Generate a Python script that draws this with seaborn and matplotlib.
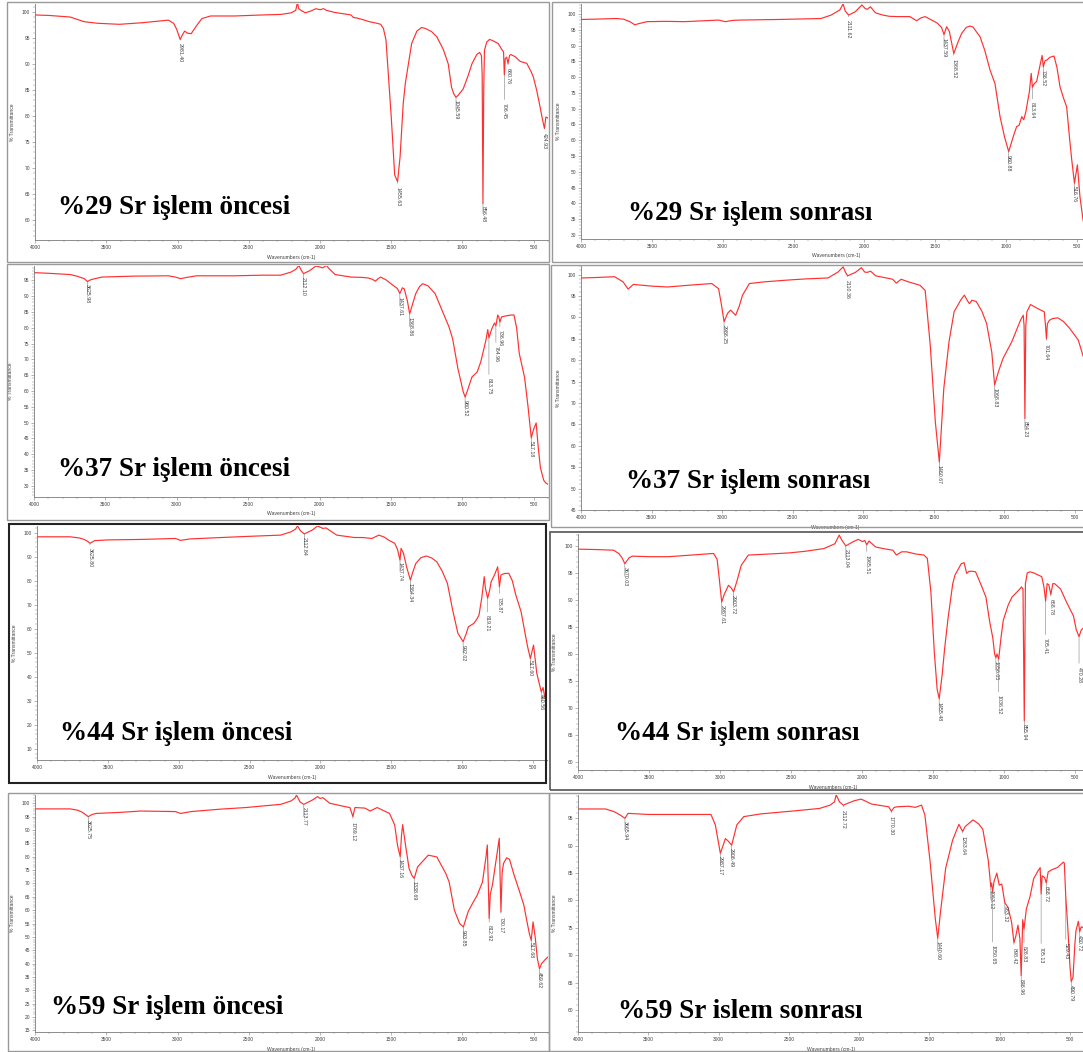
import matplotlib
matplotlib.use("Agg")
import matplotlib.pyplot as plt
from matplotlib.patches import Rectangle
from matplotlib.ticker import MultipleLocator, FormatStrFormatter
import numpy as np
import pandas as pd
import seaborn as sns

sns.set_theme(style="white")
plt.rcParams["font.family"] = ["Liberation Sans", "DejaVu Sans"]

W, H = 1083, 1052

# ---------------- spectra: wavenumber (cm-1) and % transmittance ----------------
wn_29_before = [4000, 3900, 3753, 3655, 3560, 3408, 3250, 3064, 3027, 3005, 2981.40, 2965, 2950, 2930, 2904,
                2870, 2829, 2768, 2600, 2400, 2276, 2202, 2170, 2158, 2150, 2134, 2103, 2060, 2029, 2000,
                1975, 1956, 1900, 1830, 1783, 1765, 1740, 1700, 1653, 1600, 1574, 1555, 1537, 1500, 1476,
                1455.63, 1438, 1416, 1401, 1357, 1320, 1287, 1260, 1217, 1180, 1135, 1100, 1077, 1060,
                1045.59, 1030, 995, 960, 934, 900, 880, 867, 862, 856.48, 851, 846, 830, 810, 790, 749,
                725, 712, 706.45, 700, 690, 680.76, 670, 661, 631, 596, 549, 520, 503, 480, 456, 440,
                424.93, 415, 400]
t_29_before = [99.4, 99.3, 99.0, 98.1, 97.8, 97.6, 97.9, 98.4, 97.8, 96.6, 94.7, 95.6, 96.3, 95.9, 95.8,
               97.2, 98.7, 99.2, 99.2, 99.4, 99.5, 99.8, 100.3, 101.9, 100.6, 100.3, 99.8, 100.2, 100.6, 100.4,
               100.6, 100.3, 99.9, 99.6, 99.4, 98.9, 98.8, 98.5, 98.1, 97.8, 97.6, 96.8, 94.6, 79.8, 68.7,
               67.4, 72.2, 82.4, 86.3, 93.9, 96.3, 97.0, 96.8, 96.2, 95.2, 92.8, 90.0, 85.5, 84.2,
               83.6, 84.0, 85.2, 87.8, 90.0, 91.8, 92.2, 91.6, 88.0, 63.2, 85.0, 92.6, 94.2, 94.7, 94.5, 93.9,
               92.8, 92.3, 87.9, 91.0, 91.3, 90.1, 91.6, 91.8, 91.4, 90.5, 90.1, 88.6, 87.5, 85.0, 81.8, 79.5,
               77.6, 79.8, 79.6]
peaks_29_before = [2981.40, 1455.63, 1045.59, 856.48, 706.45, 680.76, 424.93]

wn_29_after = [4000, 3900, 3751, 3700, 3655, 3620, 3590, 3534, 3400, 3269, 3029, 2981, 2930, 2885, 2600,
               2400, 2306, 2234, 2173, 2150, 2135, 2111.62, 2065, 2017, 1995, 1981, 1957, 1921, 1870, 1824,
               1760, 1679, 1631, 1600, 1571, 1520, 1487, 1455, 1437.59, 1419, 1400, 1368.52, 1340, 1313,
               1280, 1254, 1233, 1183, 1150, 1113, 1078, 1042, 1010, 980.88, 960, 943, 925, 907, 889, 875,
               860, 835, 822, 813.64, 800, 784, 762, 745, 736.52, 725, 713, 690, 661, 640, 619, 595, 572,
               550, 536, 516.76, 496, 478, 456, 440]
t_29_after = [98.3, 98.4, 98.6, 98.4, 97.6, 96.6, 97.0, 97.6, 97.7, 97.6, 98.1, 97.6, 98.0, 98.1, 98.3,
              98.5, 98.6, 99.7, 101.3, 103.2, 101.0, 99.7, 100.7, 102.9, 101.8, 101.5, 102.3, 100.4, 99.7, 99.3,
              99.2, 99.2, 97.9, 98.8, 99.2, 98.0, 97.2, 95.8, 93.5, 96.0, 94.5, 87.5, 91.0, 93.9,
              95.8, 96.2, 95.9, 92.8, 88.5, 82.3, 78.0, 67.5, 61.0, 56.4, 59.5, 62.0, 64.3, 64.8, 67.5, 66.5,
              69.0, 75.4, 81.2, 76.8, 78.0, 78.6, 83.3, 86.9, 83.3, 85.2, 85.4, 86.3, 86.7, 83.0, 77.0, 73.5, 70.6,
              60.0, 53.8, 46.4, 52.2, 42.1, 34.7, 31.5]
peaks_29_after = [2111.62, 1437.59, 1368.52, 980.88, 813.64, 736.52, 516.76]

wn_37_before = [4000, 3900, 3747, 3700, 3648, 3625.98, 3600, 3525, 3300, 3059, 3010, 2973, 2930, 2862, 2600,
                2400, 2272, 2199, 2165, 2145, 2130, 2112.10, 2070, 2026, 2000, 1977, 1953, 1930, 1891, 1780,
                1700, 1658, 1630, 1609, 1590, 1572, 1530, 1486, 1455, 1437.61, 1420, 1407, 1385, 1368.86,
                1345, 1326, 1300, 1277, 1240, 1191, 1142, 1093, 1068, 1031, 994, 980.52, 965, 933, 896, 871,
                835, 822, 813.75, 795, 775, 764.96, 752, 745, 736.96, 725, 699, 660, 638, 620, 601, 564, 539,
                517.18, 500, 483, 470, 453, 430, 417, 400]
t_37_before = [97.4, 97.2, 96.8, 96.3, 95.5, 94.6, 95.2, 96.0, 96.3, 96.4, 96.0, 95.5, 95.9, 96.4, 96.4,
               96.6, 96.6, 97.6, 98.5, 99.7, 98.3, 97.1, 98.0, 99.5, 99.2, 98.9, 99.7, 98.5, 96.8, 96.0,
               95.9, 95.7, 95.3, 94.7, 95.5, 96.0, 95.0, 93.4, 92.4, 90.8, 92.6, 92.3, 88.5, 84.4,
               88.0, 90.8, 93.0, 93.9, 93.2, 90.8, 85.5, 80.2, 76.5, 67.1, 59.8, 58.1, 60.0, 64.4, 66.0, 69.2,
               76.0, 79.4, 76.8, 79.5, 81.5, 80.6, 84.0, 83.5, 81.8, 83.4, 83.7, 84.0, 84.0, 80.0, 71.8, 64.3, 54.7,
               45.2, 48.0, 49.9, 43.0, 35.7, 31.8, 31.0, 30.5]
peaks_37_before = [3625.98, 2112.10, 1437.61, 1368.86, 980.52, 813.75, 764.96, 736.96, 517.18]

wn_37_after = [4000, 3900, 3762, 3702, 3666, 3629, 3500, 3387, 3200, 3073, 3025, 3005, 2986.25, 2960, 2940,
               2904, 2880, 2855, 2807, 2700, 2541, 2400, 2250, 2178, 2142, 2125, 2110.36, 2056, 2013, 1990,
               1972, 1948, 1912, 1850, 1791, 1766, 1731, 1680, 1598, 1561, 1525, 1489, 1460.67, 1429, 1392,
               1356, 1310, 1283, 1260, 1247, 1230, 1199, 1160, 1126, 1089, 1068.83, 1040, 1008, 947, 886, 866,
               860, 854.23, 848, 840, 815, 760, 717, 708, 701.64, 695, 681, 660, 621, 580, 536, 476, 444, 430]
t_37_after = [99.2, 99.3, 99.5, 98.3, 96.6, 97.7, 97.3, 97.1, 97.6, 97.9, 96.7, 93.0, 89.0, 91.0, 91.7,
              90.5, 92.5, 95.2, 97.9, 98.3, 98.7, 99.0, 99.2, 100.6, 101.8, 100.5, 99.7, 100.5, 101.6, 100.6,
              100.5, 100.8, 99.7, 99.3, 98.9, 98.0, 98.9, 98.3, 97.5, 96.3, 83.5, 65.6, 56.2, 73.4, 84.3,
              91.3, 94.0, 95.2, 93.8, 93.2, 94.0, 93.7, 91.5, 88.6, 81.9, 74.2, 77.5, 80.5, 84.3, 89.3, 90.5,
              88.0, 66.4, 88.0, 91.3, 93.0, 92.0, 91.3, 88.0, 85.0, 88.5, 89.3, 89.7, 89.9, 89.0, 87.4, 84.7, 81.2, 80.0]
peaks_37_after = [2986.25, 2110.36, 1460.67, 1068.83, 854.23, 701.64]

wn_44_before = [4000, 3766, 3700, 3667, 3645, 3625.80, 3593, 3500, 3270, 3023, 2986, 2923, 2700, 2500, 2280,
                2206, 2175, 2161, 2140, 2112.84, 2057, 2020, 2000, 1983, 1960, 1884, 1797, 1760, 1700, 1636,
                1587, 1550, 1512, 1475, 1455, 1437.74, 1430, 1413, 1390, 1364.34, 1345, 1326, 1290, 1252,
                1215, 1178, 1140, 1103, 1066, 1029, 992.02, 970, 955, 917, 895, 880, 860, 843, 835, 819.21,
                805, 794, 770, 748, 735.87, 725, 700, 670, 645, 620, 583, 546, 535, 517.60, 495, 472, 440.56,
                428, 415, 400]
t_44_before = [98.3, 98.3, 97.8, 97.2, 96.5, 95.6, 96.7, 97.0, 97.2, 97.6, 96.8, 97.4, 98.0, 98.5, 99.0,
               100.4, 101.5, 102.8, 100.8, 99.5, 101.1, 102.8, 102.3, 101.8, 102.0, 99.0, 98.3, 98.0, 98.0, 97.6,
               99.0, 98.2, 96.7, 95.6, 93.0, 88.6, 93.5, 91.4, 85.5, 80.3, 84.0, 87.2, 89.6, 90.3,
               89.5, 87.9, 84.0, 78.9, 67.8, 58.1, 54.6, 58.0, 60.8, 62.2, 64.0, 65.7, 73.0, 81.7, 77.0, 72.7,
               76.0, 79.6, 82.5, 85.8, 77.5, 82.4, 83.0, 83.1, 80.0, 74.0, 67.1, 55.3, 52.0, 47.6, 53.2, 41.4, 33.7,
               35.5, 31.5, 30.3]
peaks_44_before = [3625.80, 2112.84, 1437.74, 1364.34, 992.02, 819.21, 735.87, 517.60, 440.56]

wn_44_after = [4000, 3850, 3750, 3713, 3690, 3670.03, 3640, 3616, 3500, 3361, 3200, 3045, 3020, 3005, 2987.61,
               2970, 2940, 2920, 2903.72, 2880, 2850, 2800, 2650, 2511, 2400, 2268, 2190, 2160, 2140, 2113.04,
               2060, 2025, 1995, 1980, 1965.51, 1950, 1903, 1850, 1782, 1757, 1720, 1685, 1620, 1563, 1539,
               1514, 1490, 1470, 1455.48, 1435, 1417, 1393, 1360, 1344, 1300, 1280, 1262, 1245, 1225, 1199,
               1156, 1126, 1100, 1078, 1065, 1056.05, 1048, 1036.52, 1020, 1004, 970, 943, 895, 875, 865,
               855.94, 848, 835, 816, 790, 733, 718, 705.41, 695, 683, 668.78, 655, 642, 600, 557, 509, 490,
               470.28, 455, 440, 420, 400]
t_44_after = [99.4, 99.3, 99.2, 98.6, 97.8, 96.7, 97.8, 98.1, 98.0, 98.0, 98.3, 98.6, 97.5, 94.0, 89.6,
              91.0, 92.7, 92.2, 91.5, 93.5, 96.4, 98.3, 98.5, 98.7, 99.0, 99.5, 100.4, 102.0, 101.0, 100.0,
              100.8, 101.2, 100.8, 101.0, 100.2, 100.9, 99.8, 99.5, 99.2, 98.3, 98.9, 98.9, 98.5, 98.3, 97.7,
              91.5, 80.4, 73.5, 71.7, 76.0, 81.0, 86.6, 93.0, 94.6, 96.7, 96.9, 94.9, 95.3, 95.3, 95.2,
              92.5, 90.5, 86.0, 83.0, 80.0, 79.3, 80.0, 79.0, 83.0, 86.2, 89.0, 90.5, 91.8, 92.4, 92.0,
              67.6, 93.0, 95.0, 95.2, 95.0, 94.3, 92.5, 89.8, 93.0, 92.8, 91.0, 93.0, 93.0, 92.0, 89.5, 87.0, 84.5,
              83.2, 84.4, 84.8, 84.5, 84.0]
peaks_44_after = [3670.03, 2987.61, 2903.72, 2113.04, 1965.51, 1455.48, 1056.05, 1036.52, 855.94, 705.41,
                  668.78, 470.28]

wn_59_before = [4000, 3753, 3700, 3667, 3625.75, 3600, 3570, 3400, 3260, 3015, 2978, 2904, 2700, 2522, 2400,
                2276, 2202, 2175, 2165, 2140, 2113.77, 2054, 2017, 2000, 1980, 1931, 1820, 1790, 1769.12, 1755,
                1685, 1648, 1599, 1512, 1476, 1455, 1437.16, 1428, 1420, 1400, 1375, 1355, 1338.69, 1315,
                1240, 1180, 1118, 1094, 1057, 1020, 993.85, 960, 930, 897, 860, 835, 826, 818, 812.92, 805,
                790, 765, 742, 736, 730.17, 722, 712, 690, 670, 640, 600, 570, 545, 530, 517.68, 505, 490,
                475, 459.62, 445, 420, 400]
t_59_before = [97.9, 97.9, 97.4, 96.6, 95.0, 95.8, 96.2, 96.6, 97.1, 96.9, 96.2, 96.9, 97.8, 98.4, 99.0,
               99.6, 100.9, 102.0, 103.1, 100.5, 99.6, 101.2, 102.5, 101.8, 102.1, 100.0, 98.7, 98.4, 95.0, 98.4,
               98.2, 97.1, 98.4, 96.2, 91.9, 84.0, 80.0, 88.0, 92.0, 84.4, 75.6, 73.0, 71.9, 76.2,
               80.6, 79.9, 73.8, 70.6, 60.0, 55.0, 53.7, 59.5, 62.5, 65.6, 70.5, 80.0, 84.4, 68.0, 56.9, 66.0,
               69.4, 78.5, 86.9, 72.0, 59.4, 74.0, 77.5, 79.6, 79.0, 73.5, 67.0, 62.0, 55.0, 51.0, 48.7, 55.6, 50.0,
               42.0, 38.1, 40.0, 41.5, 42.5]
peaks_59_before = [3625.75, 2113.77, 1769.12, 1437.16, 1338.69, 993.85, 812.92, 730.17, 517.68, 459.62]

wn_59_after = [4000, 3804, 3742, 3700, 3665.94, 3644, 3500, 3263, 3054, 3023, 2987.17, 2951, 2930, 2906.49,
               2870, 2821, 2700, 2526, 2400, 2281, 2207, 2175, 2163, 2140, 2112.72, 2035, 1986, 1960, 1912,
               1790, 1770.30, 1750, 1728, 1650, 1600, 1556, 1532, 1495, 1458, 1440.60, 1421, 1384, 1335,
               1290, 1263.64, 1245, 1190, 1150, 1120, 1081, 1063.12, 1057, 1050.65, 1040, 1020, 1003, 985,
               963.32, 940, 915, 898.42, 885, 870, 856, 846.96, 836, 826.83, 810, 784, 758, 725, 712, 705.13,
               698, 680, 668.72, 655, 630, 590, 547, 540, 529.43, 515, 500, 490.79, 478, 465, 457, 440,
               430.72, 420, 400]
t_59_after = [96.7, 96.7, 96.2, 95.6, 95.0, 95.9, 95.7, 95.7, 95.7, 93.8, 88.6, 91.3, 90.8, 90.1,
              93.8, 95.3, 95.8, 96.2, 96.5, 96.8, 97.4, 98.0, 99.3, 98.0, 97.4, 98.2, 98.5, 98.2, 97.6,
              97.1, 96.3, 97.0, 97.1, 97.2, 97.0, 97.4, 95.6, 87.1, 76.7, 73.1, 77.9, 85.9, 91.0,
              93.9, 92.6, 93.5, 94.7, 94.0, 93.0, 87.3, 82.5, 83.2, 81.5, 83.5, 85.0, 82.8, 83.0,
              79.6, 78.7, 76.0, 72.3, 73.5, 75.5, 73.0, 66.3, 76.5, 74.8, 78.5, 80.7, 84.0, 85.5, 86.0, 81.2,
              84.5, 84.2, 83.2, 85.2, 85.6, 86.0, 87.0, 86.8, 80.5, 75.0, 68.0, 65.2, 66.0, 72.0, 74.5, 76.2,
              74.3, 75.2, 75.0]
peaks_59_after = [3665.94, 2987.17, 2906.49, 2112.72, 1770.30, 1440.60, 1263.64, 1063.12, 1050.65, 963.32,
                  898.42, 846.96, 826.83, 705.13, 668.72, 529.43, 490.79, 430.72]

titles = ["%29 Sr işlem öncesi", "%29 Sr işlem sonrası",
          "%37 Sr işlem öncesi", "%37 Sr işlem sonrası",
          "%44 Sr işlem öncesi", "%44 Sr işlem sonrası",
          "%59 Sr işlem öncesi", "%59 Sr islem sonrası"]

spectra = [
    (wn_29_before, t_29_before, peaks_29_before),
    (wn_29_after, t_29_after, peaks_29_after),
    (wn_37_before, t_37_before, peaks_37_before),
    (wn_37_after, t_37_after, peaks_37_after),
    (wn_44_before, t_44_before, peaks_44_before),
    (wn_44_after, t_44_after, peaks_44_after),
    (wn_59_before, t_59_before, peaks_59_before),
    (wn_59_after, t_59_after, peaks_59_after),
]

# ---------------- layout (pixels) ----------------
layouts = [
    dict(axes=(35, 4, 548, 240), ylim=(56.2, 101.5), ystep=5, frame=(7, 2, 549, 262),
         fc="#9a9a9a", flw=1.0, cap=(58, 207), leads=[4, 5, 3, 2, 28, 5, 4]),
    dict(axes=(581, 4, 1091, 239), ylim=(28.7, 103.2), ystep=5, frame=(552, 2, 1092, 262),
         fc="#9a9a9a", flw=1.0, cap=(628, 213), leads=[5, 3, 5, 3, 15, 3, 3]),
    dict(axes=(34, 266, 548, 497), ylim=(26.5, 99.5), ystep=5, frame=(7, 264, 549, 520),
         fc="#9a9a9a", flw=1.0, cap=(58, 470), leads=[2, 3, 3, 3, 3, 40, 20, 8, 3]),
    dict(axes=(581, 266, 1089, 510), ylim=(45.0, 102.0), ystep=5, frame=(551, 265, 1092, 527),
         fc="#9a9a9a", flw=1.0, cap=(626, 482), leads=[3, 4, 3, 3, 3, 5]),
    dict(axes=(37, 526, 547, 760), ylim=(5.3, 102.8), ystep=10, frame=(9, 524, 546, 783),
         fc="#222222", flw=1.5, cap=(60, 733), leads=[5, 3, 2, 3, 3, 17, 10, 2, 2]),
    dict(axes=(578, 534, 1089, 770), ylim=(58.5, 102.2), ystep=5, frame=(550, 532, 1092, 790),
         fc="#555555", flw=1.2, cap=(615, 733), leads=[3, 3, 3, 3, 10, 3, 3, 36, 3, 37, 5, 30]),
    dict(axes=(35, 795, 548, 1032), ylim=(14.4, 103.1), ystep=5, frame=(8, 793, 549, 1051),
         fc="#9a9a9a", flw=1.0, cap=(51, 1007), leads=[3, 3, 5, 2, 3, 3, 7, 5, 2, 3]),
    dict(axes=(578, 795, 1084, 1032), ylim=(56.0, 99.25), ystep=5, frame=(549, 793, 1092, 1051),
         fc="#9a9a9a", flw=1.0, cap=(618, 1012),
         leads=[3, 3, 3, 5, 5, 3, 5, 3, 53, 3, 5, 3, 17, 53, 3, 45, 3, 3]),
]

RED = "#ff3030"
AXC = "#7a7a7a"
TXC = "#404040"

fig = plt.figure(figsize=(W / 100, H / 100), dpi=100)
fig.patch.set_facecolor("white")


def px_rect(l, t, r, b):
    return [l / W, 1 - b / H, (r - l) / W, (b - t) / H]


for (wn, tr, peaks), lay, title in zip(spectra, layouts, titles):
    l, t, r, b = lay["axes"]
    axw, axh = r - l, b - t
    ax = fig.add_axes(px_rect(l, t, r, b))
    ax.set_facecolor("none")
    df = pd.DataFrame({"Wavenumber": wn, "Transmittance": tr})
    sns.lineplot(data=df, x="Wavenumber", y="Transmittance", ax=ax, color=RED, lw=0.85,
                 sort=False, estimator=None, legend=False)
    ax.set_xlim(4000, 400)
    ax.set_ylim(*lay["ylim"])

    for side in ("top", "right"):
        ax.spines[side].set_visible(False)
    for side in ("left", "bottom"):
        ax.spines[side].set_color(AXC)
        ax.spines[side].set_linewidth(0.6)

    ax.xaxis.set_major_locator(MultipleLocator(500))
    ax.xaxis.set_minor_locator(MultipleLocator(100))
    ax.yaxis.set_major_locator(MultipleLocator(lay["ystep"]))
    ax.yaxis.set_minor_locator(MultipleLocator(lay["ystep"] / 5))
    ax.xaxis.set_major_formatter(FormatStrFormatter("%d"))
    ax.yaxis.set_major_formatter(FormatStrFormatter("%d"))
    ax.tick_params(which="major", bottom=True, left=True, direction="out", length=2.2, width=0.4,
                   color=AXC, labelsize=3.5, labelcolor=TXC, pad=1.2)
    ax.tick_params(which="minor", bottom=True, left=True, direction="out", length=1.1, width=0.3,
                   color=AXC)

    ax.set_xlabel("Wavenumbers (cm-1)", fontsize=3.6, color=TXC)
    ax.set_ylabel("% Transmittance", fontsize=3.6, color=TXC)
    ax.xaxis.set_label_coords(0.5, -14.5 / axh)
    ax.yaxis.set_label_coords(-20.5 / axw, 0.5)

    # peak markers: short grey leader below each minimum and a rotated value label
    for p, lead in zip(peaks, lay["leads"]):
        tv = float(np.interp(p, wn[::-1], tr[::-1]))
        ax.annotate(f"{p:.2f}", xy=(p, tv), xytext=(0, -lead * 0.72), textcoords="offset points",
                    rotation=270, ha="center", va="top", fontsize=3.8, color=TXC,
                    arrowprops=dict(arrowstyle="-", color="#808080", lw=0.4, shrinkA=0, shrinkB=0),
                    annotation_clip=False)

    fig.text(lay["cap"][0] / W, 1 - lay["cap"][1] / H, title, fontsize=19.5, fontweight="bold",
             family="Liberation Serif", ha="left", va="center", color="black")

    x0, y0, x1, y1 = lay["frame"]
    fig.add_artist(Rectangle((x0 / W, 1 - y1 / H), (x1 - x0) / W, (y1 - y0) / H,
                             transform=fig.transFigure, fill=False, ec=lay["fc"], lw=lay["flw"]))

fig.savefig("out.png", dpi=100, facecolor="white")
